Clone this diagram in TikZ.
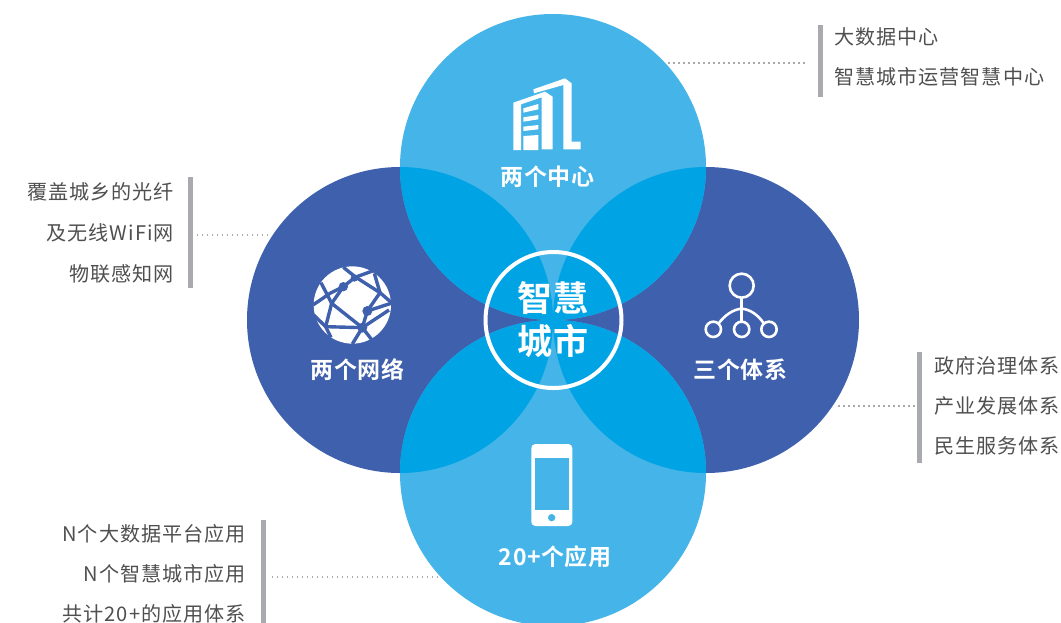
\documentclass[tikz,border=0pt]{standalone}
\usepackage{fontspec}
\newfontfamily\cjk[LetterSpace=5]{Noto Sans CJK SC}
\newfontfamily\cjkhead[LetterSpace=2]{Noto Sans CJK SC Bold}
\usetikzlibrary{positioning}
\definecolor{city-light}{HTML}{45B4E8}
\definecolor{city-dark}{HTML}{3F60AC}
\definecolor{city-mix}{HTML}{00A4E4}
\definecolor{city-bar}{HTML}{A9AAAE}
\definecolor{city-text}{HTML}{4F4F4F}
\tikzset{
    petal-light/.style={
        circle,
        fill=city-light,
        minimum size=306pt,
        inner sep=0pt,
    },
    petal-dark/.style={
        circle,
        fill=city-dark,
        minimum size=306pt,
        inner sep=0pt,
    },
    side-bar/.style={
        fill=city-bar,
        minimum width=5pt,
        inner sep=0pt,
    },
    side-text/.style={
        text=city-text,
        font=\cjk\fontsize{20.1}{24}\selectfont,
        inner sep=0pt,
    },
    petal-text/.style={
        text=white,
        font=\cjkhead\fontsize{23}{27}\selectfont,
        inner sep=0pt,
    },
    hub-text/.style={
        text=white,
        font=\cjkhead\fontsize{35}{40}\selectfont,
        inner sep=0pt,
    },
    lead-line/.style={
        draw=city-bar,
        line width=1.2pt,
        dash pattern=on 1.5pt off 3.5pt,
    },
    icon-line/.style={
        draw=white,
        line width=2.6pt,
    },
    globe-line/.style={
        draw=city-dark,
        line width=3.4pt,
    },
}
\begin{document}
\begin{tikzpicture}[x=1pt,y=-1pt]
\clip (0,0) rectangle (1061,622);

%Circles
\node[petal-dark] (left-circle) at (400,320) {};
\node[petal-dark] (right-circle) at (706,320) {};
\node[petal-light] (top-circle) at (553,167) {};
\node[petal-light] (bottom-circle) at (553,473) {};
%Overlaps
\begin{scope}
\clip (553,167) circle (153);
\fill[city-mix] (400,320) circle (153);
\fill[city-mix] (706,320) circle (153);
\end{scope}
\begin{scope}
\clip (553,473) circle (153);
\fill[city-mix] (400,320) circle (153);
\fill[city-mix] (706,320) circle (153);
\end{scope}

%Centre ring
\node[circle,draw=white,line width=4pt,minimum size=136pt,inner sep=0pt] (hub-ring) at (553.5,320) {};

%Building icon
\begin{scope}[shift={(460,60)},scale=1/3]
\fill[white] (160,270) -- (160,128) -- (255,95) -- (278,110) -- (278,268) -- (245,268) -- (245,112) -- (183,133) -- (183,270) -- cycle;
\fill[white] (190,145) -- (235,132) -- (235,148) -- (190,158) -- cycle;
\fill[white] (190,172) -- (235,165) -- (235,178) -- (190,185) -- cycle;
\fill[white] (190,200) -- (235,195) -- (235,208) -- (190,213) -- cycle;
\fill[white] (190,228) -- (235,225) -- (235,270) -- (190,270) -- cycle;
\fill[white] (220,88) -- (315,55) -- (335,70) -- (335,245) -- (362,245) -- (362,268) -- (310,268) -- (310,75) -- (222,100) -- cycle;
\end{scope}

%Globe icon
\begin{scope}[shift={(305,260)},scale=1/3]
\fill[white] (142,135) circle (116);
\draw[globe-line] (24,135) -- (75,100) -- (115,80) -- (150,52) -- (205,32);
\draw[globe-line] (115,22) -- (150,50) -- (225,98) -- (262,130);
\draw[globe-line] (48,68) -- (80,130) -- (172,203) -- (205,245);
\draw[globe-line] (80,130) -- (62,200) -- (78,232);
\draw[globe-line] (26,165) -- (62,200) -- (172,203) -- (252,150);
\draw[globe-line] (208,40) -- (225,98) -- (187,153) -- (172,203) -- (142,252);
\draw[globe-line] (187,153) -- (258,130);
\draw[globe-line] (115,80) -- (80,130);
\fill[city-dark] (115,80) circle (14);
\fill[city-dark] (148,54) circle (11);
\fill[city-dark] (187,153) circle (15);
\fill[city-dark] (172,203) circle (15);
\end{scope}

%Tree icon
\begin{scope}[shift={(670,250)},scale=1/3]
\draw[icon-line] (215,107) circle (36);
\draw[icon-line] (130,238) circle (23);
\draw[icon-line] (215,238) circle (23);
\draw[icon-line] (297,238) circle (23);
\draw[icon-line] (215,143) -- (215,215);
\draw[icon-line] (146,220) .. controls (165,195) and (190,178) .. (215,176) .. controls (240,178) and (265,195) .. (281,220);
\end{scope}

%Phone icon
\begin{scope}[shift={(490,430)},scale=1/3]
\fill[white,rounded corners=4pt] (124,42) rectangle (247,288);
\fill[city-light] (134,84) rectangle (237,240);
\fill[city-light] (185,263) circle (11);
\end{scope}

% Text Node
\node[petal-text] (top-label) at (547.5,177) {两个中心};
\node[petal-text] (left-label) at (357.5,370) {两个网络};
\node[petal-text] (right-label) at (740.5,370) {三个体系};
\node[petal-text] (bottom-label) at (555,557) {20+个应用};
\node[hub-text] (hub-upper) at (553,298) {智慧};
\node[hub-text] (hub-lower) at (553,341) {城市};

%Bars
\node[side-bar,minimum height=72pt] (top-bar) at (820,61) {};
\node[side-bar,minimum height=111pt] (left-bar) at (190,232.5) {};
\node[side-bar,minimum height=111pt] (right-bar) at (919.5,407.5) {};
\node[side-bar,minimum height=110pt] (bottom-bar) at (263.5,575) {};

%Dotted leaders
\coordinate (top-lead-a) at (668,63);
\coordinate (top-lead-b) at (808,63);
\coordinate (left-lead-a) at (268,235);
\coordinate (left-lead-b) at (197,235);
\coordinate (right-lead-a) at (838,406);
\coordinate (right-lead-b) at (915,406);
\coordinate (bottom-lead-a) at (438,577);
\coordinate (bottom-lead-b) at (272,577);
\draw[lead-line] (top-lead-a) -- (top-lead-b);
\draw[lead-line] (left-lead-a) -- (left-lead-b);
\draw[lead-line] (right-lead-a) -- (right-lead-b);
\draw[lead-line] (bottom-lead-a) -- (bottom-lead-b);

% Text Node
\node[side-text,anchor=west] (top-line-a) at (834,37) {大数据中心};
\node[side-text,anchor=west] (top-line-b) at (834,77) {智慧城市运营智慧中心};
\node[side-text,anchor=east] (left-line-a) at (174,192) {覆盖城乡的光纤};
\node[side-text,anchor=east] (left-line-b) at (174,233) {及无线WiFi网};
\node[side-text,anchor=east] (left-line-c) at (174,274) {物联感知网};
\node[side-text,anchor=west] (right-line-a) at (934,366) {政府治理体系};
\node[side-text,anchor=west] (right-line-b) at (934,406) {产业发展体系};
\node[side-text,anchor=west] (right-line-c) at (934,446) {民生服务体系};
\node[side-text,anchor=east] (bottom-line-a) at (246,534) {N个大数据平台应用};
\node[side-text,anchor=east] (bottom-line-b) at (246,574) {N个智慧城市应用};
\node[side-text,anchor=east] (bottom-line-c) at (246,614) {共计20+的应用体系};
\end{tikzpicture}
\end{document}
